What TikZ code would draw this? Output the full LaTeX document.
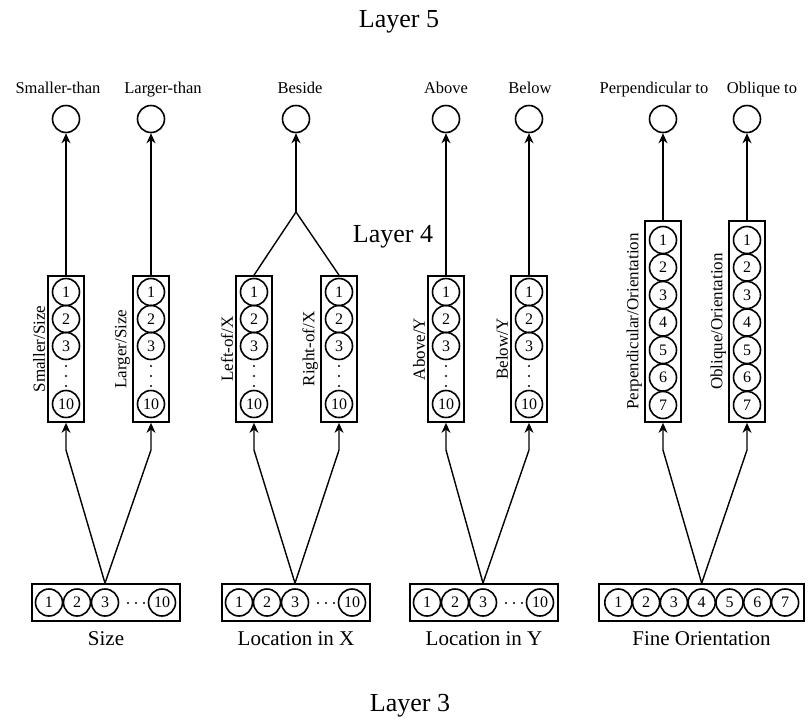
\documentclass[tikz,border=0pt]{standalone}
\usepackage{fontspec}
\setmainfont{Liberation Serif}
\usetikzlibrary{arrows.meta,positioning}

\begin{document}
\begin{tikzpicture}[x=1pt, y=-1pt,
    every node/.style={font=\fontsize{16.5}{19}\selectfont},
    unit/.style={circle, draw, line width=1.6pt, minimum size=27pt, inner sep=0pt, font=\fontsize{16}{16}\selectfont},
    bank/.style={draw, line width=1.7pt, inner sep=0pt},
    side/.style={rotate=90, anchor=south, inner sep=2pt, font=\fontsize{17}{19}\selectfont},
    group/.style={font=\fontsize{21}{24}\selectfont},
    layer/.style={font=\fontsize{26}{28}\selectfont},
    link/.style={line width=1.4pt},
    arr/.style={link, -{Stealth[length=10pt, width=9pt]}}]
  \useasboundingbox (0,0) rectangle (812,721);

  \node[layer] (l5) at (399,22) {Layer 5};
  \node[layer] (l4) at (393,237) {Layer 4};
  \node[layer] (l3) at (410,706) {Layer 3};

  % layer 5 units
  \foreach \n/\x/\lx/\txt in {smaller/66/58/Smaller-than, larger/151/163/Larger-than,
      beside/296/300/Beside, above/446/446/Above, below/529/530/Below,
      perp/663/654/Perpendicular to, oblique/747/762/Oblique to} {
    \node[unit] (\n) at (\x,119) {};
    \node[anchor=base] (\n-t) at (\lx,93) {\txt};
  }

  % layer 4 banks of ten
  \foreach \n/\x/\txt in {ssize/66/{Smaller/Size}, lsize/151/{Larger/Size},
      leftx/254/{Left-of/X}, rightx/339/{Right-of/X},
      abovey/446/{Above/Y}, belowy/529/{Below/Y}} {
    \node[bank, minimum width=36pt, minimum height=146pt] (\n) at (\x,349) {};
    \foreach \i in {1,2,3}
      \node[unit] (\n-\i) at (\x,265+27*\i) {\i};
    \foreach \d in {366,376,386}
      \fill (\x,\d) circle (1.1pt);
    \node[unit] (\n-10) at (\x,404) {10};
    \node[side] (\n-t) at (\n.west) {\txt};
  }

  % layer 4 banks of seven
  \foreach \n/\x/\txt in {perpo/663/{Perpendicular/Orientation}, obliqueo/747/{Oblique/Orientation}} {
    \node[bank, minimum width=36pt, minimum height=201pt] (\n) at (\x,321.5) {};
    \foreach \i in {1,...,7}
      \node[unit] (\n-\i) at (\x,212.5+27.5*\i) {\i};
    \node[side] (\n-t) at (\n.west) {\txt};
  }

  % layer 3 banks
  \foreach \n/\x/\txt in {size/32/Size, locx/222/Location in X, locy/410/Location in Y} {
    \node[bank, minimum width=148pt, minimum height=37pt] (\n) at (\x+74,602.5) {};
    \foreach \i in {1,2,3}
      \node[unit] (\n-\i) at (\x-11+28*\i,602.5) {\i};
    \foreach \d in {96,104,112}
      \fill (\x+\d,603) circle (1.1pt);
    \node[unit] (\n-10) at (\x+130,602.5) {10};
    \node[group, below=6pt of \n] (\n-t) {\txt};
  }
  \node[bank, minimum width=205pt, minimum height=37pt] (fine) at (701.5,602.5) {};
  \foreach \i in {1,...,7}
    \node[unit] (fine-\i) at (590.5+27.8*\i,602.5) {\i};
  \node[group, below=6pt of fine] (fine-t) {Fine Orientation};

  % connections
  \coordinate (bend) at (0,450);
  \coordinate (fork) at (296,212);
  \foreach \src/\dst in {size-3/ssize, size-3/lsize, locx-3/leftx, locx-3/rightx,
      locy-3/abovey, locy-3/belowy, fine-4/perpo, fine-4/obliqueo}
    \draw[arr] (\src |- size.north) -- (\dst.south |- bend) -- (\dst.south);
  \foreach \src/\dst in {ssize/smaller, lsize/larger, abovey/above, belowy/below,
      perpo/perp, obliqueo/oblique}
    \draw[arr] (\src.north) -- (\dst.south);
  \draw[link] (leftx.north) -- (fork) -- (rightx.north);
  \draw[arr] (fork) -- (beside.south);
\end{tikzpicture}
\end{document}
